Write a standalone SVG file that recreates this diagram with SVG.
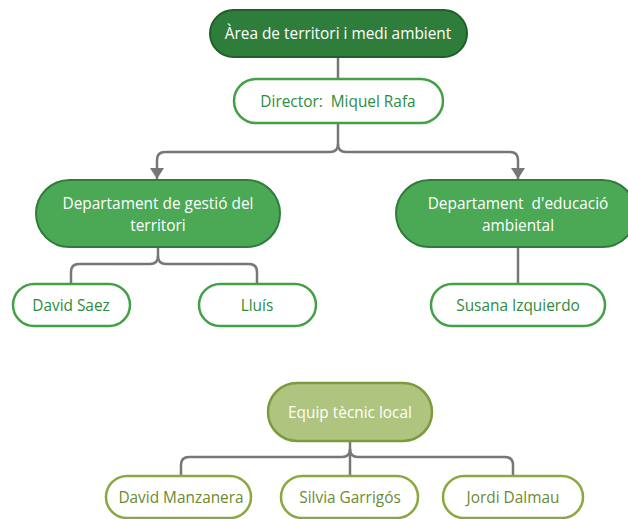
<svg xmlns="http://www.w3.org/2000/svg" width="628" height="519" viewBox="0 0 628 519">
<defs>
<marker id="arr" viewBox="0 0 10 10" refX="10" refY="5" markerWidth="11" markerHeight="14" markerUnits="userSpaceOnUse" preserveAspectRatio="none" orient="auto">
<path d="M0,0 L10,5 L0,10 Z" fill="#777"/>
</marker>
<style>
text{font-family:"Open Sans","Noto Sans","Liberation Sans",sans-serif;font-size:15.4px;text-anchor:middle;dominant-baseline:central}
.conn{fill:none;stroke:#777;stroke-width:2.5}
.top{fill:#2f7d3b;stroke:#1f5f2b;stroke-width:2}
.dept{fill:#4ba855;stroke:#2e7d3a;stroke-width:2}
.wn{fill:#fff;stroke:#43a047;stroke-width:2.5}
.wt{fill:#2e8b3c}
.lt{fill:#fff}
.eq{fill:#afc47e;stroke:#7b9b3d;stroke-width:2.5}
.on{fill:#fff;stroke:#8aa83f;stroke-width:2.5}
.ot{fill:#6b8a2e}
</style>
</defs>
<g id="connectors">
<path class="conn" d="M338,57 V79"/>
<path class="conn" d="M338,123 V144 Q338,152 330,152 H165 Q157,152 157,160 V179" marker-end="url(#arr)"/>
<path class="conn" d="M338,144 Q338,152 346,152 H510 Q518,152 518,160 V179" marker-end="url(#arr)"/>
<path class="conn" d="M158,247 V256 Q158,264 150,264 H79 Q71,264 71,272 V284"/>
<path class="conn" d="M158,256 Q158,264 166,264 H249 Q257,264 257,272 V284"/>
<path class="conn" d="M518,247 V284"/>
<path class="conn" d="M350,441 V449 Q350,457 342,457 H189 Q181,457 181,465 V476"/>
<path class="conn" d="M350,449 Q350,457 358,457 H505 Q513,457 513,465 V476"/>
<path class="conn" d="M350,449 V476"/>
</g>
<g id="n-area"><rect class="top" x="210" y="10" width="257" height="47" rx="23.5"/><text class="lt" x="338" y="33">Àrea de territori i medi ambient</text></g>
<g id="n-director"><rect class="wn" x="234" y="79" width="209" height="44" rx="22"/><text class="wt" x="338" y="101" xml:space="preserve">Director:  Miquel Rafa</text></g>
<g id="n-dept1"><rect class="dept" x="36" y="180" width="244" height="67" rx="33.5"/><text class="lt" x="158" y="203">Departament de gestió del</text><text class="lt" x="158" y="225">territori</text></g>
<g id="n-dept2"><rect class="dept" x="396" y="180" width="240" height="67" rx="33.5"/><text class="lt" x="518" y="203" xml:space="preserve">Departament  d'educació</text><text class="lt" x="518" y="225">ambiental</text></g>
<g id="n-david"><rect class="wn" x="13" y="284" width="117" height="42" rx="21"/><text class="wt" x="71" y="305">David Saez</text></g>
<g id="n-lluis"><rect class="wn" x="199" y="284" width="117" height="42" rx="21"/><text class="wt" x="257" y="305">Lluís</text></g>
<g id="n-susana"><rect class="wn" x="431" y="284" width="174" height="42" rx="21"/><text class="wt" x="518" y="305">Susana Izquierdo</text></g>
<g id="n-equip"><rect class="eq" x="268" y="383" width="164" height="58" rx="29"/><text class="lt" x="350" y="412">Equip tècnic local</text></g>
<g id="n-manzanera"><rect class="on" x="106" y="476" width="145" height="42" rx="21"/><text class="ot" x="181" y="497">David Manzanera</text></g>
<g id="n-silvia"><rect class="on" x="281" y="476" width="137" height="42" rx="21"/><text class="ot" x="350" y="497">Silvia Garrigós</text></g>
<g id="n-jordi"><rect class="on" x="443" y="476" width="140" height="42" rx="21"/><text class="ot" x="513" y="497">Jordi Dalmau</text></g>
</svg>
